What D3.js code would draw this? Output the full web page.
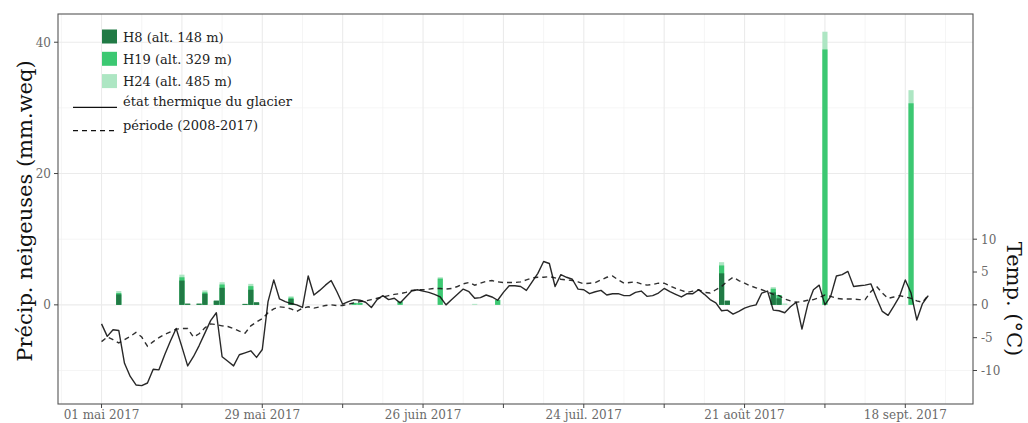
<!DOCTYPE html>
<html>
<head>
<meta charset="utf-8">
<script src="https://cdn.jsdelivr.net/npm/d3@7"></script>
<style>
  body { margin: 0; background: #fff; }
  svg { display: block; }
  text { font-family: "DejaVu Serif", serif; }
</style>
</head>
<body>
<svg id="chart" width="1028" height="423"></svg>
<script>
// Daily series start on this date (one value per day)
const startDate = "2017-05-01";

// Glacier thermal state, °C
const tempGlacier = [
  -2.9, -4.8, -3.8, -3.9, -8.9, -10.9, -12.2, -12.3, -11.9, -9.8,
  -9.9, -7.6, -5.5, -3.6, -6.4, -9.3, -7.9, -6.2, -4.3, -2.4,
  -1.2, -7.9, -8.6, -9.3, -7.6, -7.3, -7.0, -8.0, -6.8, 0.5,
  3.8, 0.9, 0.5, 0.2, 0.0, -0.4, 4.4, 1.5, 2.2, 3.0,
  3.7, 2.0, 0.1, 0.5, 0.8, 0.7, 0.4, -0.4, 0.8, 1.4,
  0.8, 1.0, 0.3, 1.2, 2.1, 2.3, 2.1, 1.9, 1.6, 1.2,
  0.0, 0.8, 1.6, 2.4, 2.0, 1.0, 1.1, 1.5, 1.2, 0.7,
  1.9, 2.9, 2.9, 2.8, 2.2, 3.5, 4.8, 6.6, 6.3, 2.8,
  4.6, 4.2, 3.9, 2.4, 2.3, 1.7, 2.0, 2.2, 1.5, 1.7,
  1.7, 1.4, 1.4, 1.9, 2.1, 1.3, 1.4, 1.8, 2.5, 2.0,
  1.6, 1.2, 1.7, 1.7, 2.3, 1.6, 0.8, 0.3, -0.9, -0.8,
  -1.4, -1.0, -0.5, -0.2, 0.0, 1.8, 2.1, -0.8, -0.9, -1.2,
  -0.3, 0.4, -3.7, 0.0, 2.3, 3.0, 0.0, 1.3, 4.4, 4.6,
  5.1, 2.8, 2.9, 3.0, 3.2, 1.0, -1.0, -1.6, -0.2, 1.3,
  3.8, 1.8, -2.3, 0.2, 1.4
];

// Reference period 2008-2017, °C
const tempPeriod = [
  -5.6, -4.9, -5.3, -5.8, -5.3, -4.8, -4.2, -4.9, -6.3, -5.6,
  -5.0, -4.5, -4.1, -3.7, -3.6, -3.6, -4.9, -4.4, -3.5, -2.9,
  -3.0, -3.2, -3.3, -3.6, -4.0, -4.3, -3.2, -2.6, -2.1, -1.2,
  -0.6, -0.3, -0.4, -0.6, -1.0, -0.5, -0.3, -0.5, -0.3, -0.1,
  0.0, -0.1, -0.1, 0.1, 0.3, 0.5, 0.6, 0.8, 1.0, 1.2,
  1.4, 1.6, 1.7, 1.9, 2.2, 2.3, 2.3, 2.4, 2.5, 2.5,
  2.4, 2.5, 2.8, 3.2, 3.4, 3.0, 3.3, 3.6, 3.7, 3.5,
  3.4, 3.4, 3.4, 3.5, 3.8, 4.1, 4.2, 4.2, 4.3, 4.1,
  3.9, 3.8, 3.7, 3.5, 3.2, 3.3, 3.4, 3.8, 4.2, 4.4,
  3.8, 3.3, 3.4, 3.5, 3.2, 3.0, 3.1, 3.3, 3.3, 2.9,
  2.5, 2.2, 1.9, 2.1, 2.3, 1.9, 1.8, 2.3, 2.8, 3.6,
  4.2, 3.7, 3.3, 2.9, 2.6, 2.3, 2.0, 1.6, 1.4, 0.9,
  0.6, 0.4, 0.5, 0.7, 0.8, 1.1, 1.5, 1.3, 1.0, 0.9,
  0.9, 0.9, 0.8, 0.8, 2.0, 2.8, 1.8, 1.0, 1.2, 1.4,
  1.2, 1.0, 0.6, 0.4, 1.5
];

// Snowfall days and amounts per station, mm w.e.
const snowDates = [
  "2017-05-04", "2017-05-15", "2017-05-16", "2017-05-18", "2017-05-19",
  "2017-05-21", "2017-05-22", "2017-05-26", "2017-05-27", "2017-05-28",
  "2017-06-03", "2017-06-14", "2017-06-15", "2017-06-22", "2017-06-29",
  "2017-07-05", "2017-07-09", "2017-08-17", "2017-08-18", "2017-08-26",
  "2017-08-27", "2017-08-28", "2017-09-04", "2017-09-19"
];
const snowH8  = [1.6, 3.7, 0.2, 0.2, 1.7, 0.65, 2.6, 0.15, 2.3, 0.4, 0.9, 0, 0, 0, 0, 0, 0, 4.8, 0.65, 1.9, 1.0, 0, 0, 0];
const snowH19 = [1.8, 4.2, 0.1, 0.1, 1.9, 0.6, 3.1, 0.1, 2.85, 0.3, 1.1, 0.3, 0.3, 0.5, 4.0, 0, 0.75, 6.0, 0.6, 2.45, 1.5, 0, 38.9, 30.7];
const snowH24 = [2.1, 4.6, 0.1, 0.1, 2.2, 0.6, 3.45, 0.1, 3.2, 0.3, 1.3, 0.3, 0.3, 0.5, 4.2, 0.15, 0.75, 6.5, 0.6, 2.7, 1.5, 0.2, 41.6, 32.7];

const stationNames = ["H8 (alt. 148 m)", "H19 (alt. 329 m)", "H24 (alt. 485 m)"];
const stationColors = ["#217a45", "#3cc872", "#ade6c3"];
const lineNames = ["état thermique du glacier", "période (2008-2017)"];

const precipTicks = [0, 20, 40];
const precipMinor = [-10, 10, 30];
const tempTicks = [-10, -5, 0, 5, 10];

const fr = d3.timeFormatLocale({
  dateTime: "%A %e %B %Y à %X", date: "%d/%m/%Y", time: "%H:%M:%S",
  periods: ["AM", "PM"],
  days: ["dimanche", "lundi", "mardi", "mercredi", "jeudi", "vendredi", "samedi"],
  shortDays: ["dim.", "lun.", "mar.", "mer.", "jeu.", "ven.", "sam."],
  months: ["janvier", "février", "mars", "avril", "mai", "juin", "juillet", "août", "septembre", "octobre", "novembre", "décembre"],
  shortMonths: ["janv.", "févr.", "mars", "avr.", "mai", "juin", "juil.", "août", "sept.", "oct.", "nov.", "déc."]
});
const fmtDate = fr.format("%d %b %Y");

const parse = d3.timeParse("%Y-%m-%d");
const t0 = parse(startDate);
const days = tempGlacier.map((_, i) => d3.timeDay.offset(t0, i));

// Panel geometry
const svg = d3.select("#chart");
const P = { left: 58, right: 973, top: 14, bottom: 404 };

const x = d3.scaleTime()
  .domain([d3.timeHour.offset(t0, -7.56 * 24), d3.timeHour.offset(t0, 151.8 * 24)])
  .range([P.left, P.right]);
const y = d3.scaleLinear().domain([-15.1, 44.3]).range([P.bottom, P.top]);

const dayPx = x(d3.timeDay.offset(t0, 1)) - x(t0);

// Grid
const grid = svg.append("g");
const majorDays = d3.range(0, 141, 14).map(d => d3.timeDay.offset(t0, d));
const minorDays = d3.range(-7, 152, 14).map(d => d3.timeDay.offset(t0, d));
grid.selectAll(".gy").data(precipMinor).join("line")
  .attr("x1", P.left).attr("x2", P.right)
  .attr("y1", d => y(d)).attr("y2", d => y(d))
  .attr("stroke", "#f2f2f2").attr("stroke-width", 0.8);
grid.selectAll(".gx").data(minorDays).join("line")
  .attr("y1", P.top).attr("y2", P.bottom)
  .attr("x1", d => x(d)).attr("x2", d => x(d))
  .attr("stroke", "#f2f2f2").attr("stroke-width", 0.8);
grid.selectAll(".GY").data(precipTicks).join("line")
  .attr("x1", P.left).attr("x2", P.right)
  .attr("y1", d => y(d)).attr("y2", d => y(d))
  .attr("stroke", "#ebebeb").attr("stroke-width", 1.1);
grid.selectAll(".GX").data(majorDays).join("line")
  .attr("y1", P.top).attr("y2", P.bottom)
  .attr("x1", d => x(d)).attr("x2", d => x(d))
  .attr("stroke", "#ebebeb").attr("stroke-width", 1.1);

// Snowfall bars, highest station behind
const snowRows = snowDates.map((s, i) => ({ date: parse(s), v: [snowH8[i], snowH19[i], snowH24[i]] }));
const barW = dayPx * 0.9;
[2, 1, 0].forEach(k => {
  svg.append("g").selectAll("rect")
    .data(snowRows.filter(r => r.v[k] > 0))
    .join("rect")
    .attr("x", r => x(r.date) - barW / 2)
    .attr("width", barW)
    .attr("y", r => y(r.v[k]))
    .attr("height", r => y(0) - y(r.v[k]))
    .attr("fill", stationColors[k]);
});

// Temperature lines
const line = d3.line().x((d, i) => x(days[i])).y(d => y(d));
svg.append("path").datum(tempPeriod).attr("d", line)
  .attr("fill", "none").attr("stroke", "#1a1a1a").attr("stroke-width", 1.4)
  .attr("stroke-dasharray", "5,4").attr("opacity", 0.9);
svg.append("path").datum(tempGlacier).attr("d", line)
  .attr("fill", "none").attr("stroke", "#111").attr("stroke-width", 1.4)
  .attr("stroke-linejoin", "round").attr("opacity", 0.9);

// Panel border
svg.append("rect").attr("x", P.left).attr("y", P.top)
  .attr("width", P.right - P.left).attr("height", P.bottom - P.top)
  .attr("fill", "none").attr("stroke", "#555").attr("stroke-width", 1.1);

const tickCol = "#444", labCol = "#6a6a6a";

// Left axis
const gl = svg.append("g");
gl.selectAll("line").data(precipTicks).join("line")
  .attr("x1", P.left - 4).attr("x2", P.left).attr("y1", d => y(d)).attr("y2", d => y(d))
  .attr("stroke", tickCol);
gl.selectAll("text").data(precipTicks).join("text")
  .attr("x", P.left - 7).attr("y", d => y(d)).attr("dy", "0.36em")
  .attr("text-anchor", "end").attr("font-size", 12).attr("fill", labCol).text(d => d);

// Right axis
const gr = svg.append("g");
gr.selectAll("line").data(tempTicks).join("line")
  .attr("x1", P.right).attr("x2", P.right + 4).attr("y1", d => y(d)).attr("y2", d => y(d))
  .attr("stroke", tickCol);
gr.selectAll("text").data(tempTicks).join("text")
  .attr("x", P.right + 8).attr("y", d => y(d)).attr("dy", "0.36em")
  .attr("text-anchor", "start").attr("font-size", 12).attr("fill", labCol).text(d => d);

// Bottom axis: ticks every two weeks, labels every four
const gb = svg.append("g");
gb.selectAll("line").data(majorDays).join("line")
  .attr("x1", d => x(d)).attr("x2", d => x(d)).attr("y1", P.bottom).attr("y2", P.bottom + 4)
  .attr("stroke", tickCol);
gb.selectAll("text").data(majorDays.filter((d, i) => i % 2 === 0)).join("text")
  .attr("x", d => x(d)).attr("y", P.bottom + 15)
  .attr("text-anchor", "middle").attr("font-size", 12).attr("fill", labCol).text(d => fmtDate(d));

// Axis titles
svg.append("text").attr("transform", `translate(32,${211}) rotate(-90)`)
  .attr("text-anchor", "middle").attr("font-size", 21).attr("fill", "#111")
  .text("Précip. neigeuses (mm.weq)");
svg.append("text").attr("transform", `translate(1007,${299}) rotate(90)`)
  .attr("text-anchor", "middle").attr("font-size", 21).attr("fill", "#111")
  .text("Temp. (°C)");

// Legend
const lg = svg.append("g");
stationNames.forEach((n, i) => {
  const cy = 36.5 + i * 22.3;
  lg.append("rect").attr("x", 102).attr("y", cy - 7).attr("width", 15).attr("height", 14)
    .attr("fill", stationColors[i]);
  lg.append("text").attr("x", 123).attr("y", cy + 5).attr("font-size", 13).attr("fill", "#222").text(n);
});
lineNames.forEach((n, i) => {
  const cy = 107.3 + i * 23.3;
  lg.append("line").attr("x1", 73).attr("x2", 117).attr("y1", cy).attr("y2", cy)
    .attr("stroke", "#111").attr("stroke-width", 1.3)
    .attr("stroke-dasharray", i === 1 ? "5,4" : null);
  lg.append("text").attr("x", 123).attr("y", cy - 1).attr("font-size", 13).attr("fill", "#222").text(n);
});
</script>
</body>
</html>
